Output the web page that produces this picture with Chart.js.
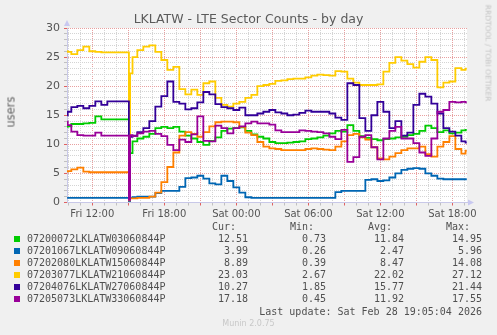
<!DOCTYPE html>
<html>
<head>
<meta charset="utf-8">
<script src="https://cdn.jsdelivr.net/npm/chart.js@4.4.1/dist/chart.umd.min.js"></script>
<style>
  html, body { margin: 0; padding: 0; background: #f0f0f0; }
  #wrap { position: relative; width: 497px; height: 335px; overflow: hidden; font-family: "DejaVu Sans", sans-serif; color: #555; }
  #wrap canvas { position: absolute; left: 0; top: 0; }
  .t { position: absolute; white-space: pre; }
  .mono { font-family: "DejaVu Sans Mono", monospace; font-size: 10px; line-height: 12px; color: #505050; }
  .sw { position: absolute; width: 6px; height: 6px; }
</style>
</head>
<body>
<div id="wrap">
  <canvas id="graf" width="497" height="335"></canvas>
  <div class="t" id="titulo" style="left:0;width:497px;top:11px;text-align:center;font-size:12.5px;line-height:15px;color:#5a5a5a;">LKLATW - LTE Sector Counts - by day</div>
  <div class="t" style="left:11px;top:112px;font-size:11.5px;line-height:13px;color:#666;transform:translate(-50%,-50%) rotate(-90deg);">users</div>
  <div class="t" style="left:488px;top:53px;font-size:7.5px;line-height:9px;color:#c4c4c4;transform:translate(-50%,-50%) rotate(90deg);">RRDTOOL / TOBI OETIKER</div>
  <div id="leyenda"></div>
  <div class="t mono" style="right:15px;top:306px;">Last update: Sat Feb 28 19:05:04 2026</div>
  <div class="t" style="left:0;width:497px;text-align:center;top:319px;font-size:8px;line-height:10px;color:#c8c8c8;">Munin 2.0.75</div>
</div>
<script>
// ---------- datos ----------
// horas desde el viernes 00:00
const tiempos = [
  9.9, 10, 10.5, 11, 11.5, 12, 12.5, 13, 13.5, 14, 14.5, 15, 15.1, 15.2,
  15.5, 16, 16.5, 17, 17.5, 18, 18.5, 19, 19.5, 20, 20.5, 21,
  21.5, 22, 22.5, 23, 23.5, 24, 24.5, 25, 25.5, 26, 26.5, 27,
  27.5, 28, 28.5, 29, 29.5, 30, 30.5, 31, 31.5, 32, 32.5, 33,
  33.5, 34, 34.5, 35, 35.5, 36, 36.5, 37, 37.5, 38, 38.5, 39,
  39.5, 40, 40.5, 41, 41.5, 42, 42.5, 43, 43.2
];

const nombres = [
  '07200072LKLATW03060844P', '07201067LKLATW09060844P', '07202080LKLATW15060844P',
  '07203077LKLATW21060844P', '07204076LKLATW27060844P', '07205073LKLATW33060844P'
];
const colores = ['#00CC00', '#0066B3', '#FF8000', '#FFCC00', '#330099', '#990099'];

const sector03 = [
  13.0, 13.1, 13.5, 13.5, 13.6, 13.7, 14.8, 14.3, 14.3, 14.3, 14.3, 14.3, 0.73, 8.5,
  10.5, 11.0, 11.3, 11.8, 12.8, 13.0, 12.8, 13.0, 12.2, 11.5, 11.0, 10.4,
  9.9, 10.6, 11.2, 12.3, 12.7, 12.8, 12.9, 12.3, 11.7, 11.3, 11.0, 10.4,
  10.2, 10.2, 10.3, 10.4, 10.5, 10.9, 11.0, 11.2, 11.5, 11.9, 12.3, 12.2,
  13.3, 12.3, 11.4, 11.1, 10.9, 10.7, 10.9, 11.0, 11.2, 11.3, 11.6, 11.8,
  12.3, 13.2, 12.8, 12.1, 12.4, 11.9, 12.0, 12.4, 12.5
];
const sector09 = [
  0.8, 0.8, 0.8, 0.8, 0.8, 0.8, 0.8, 0.8, 0.8, 0.8, 0.8, 0.8, 0.26, 0.8,
  0.9, 1.0, 1.0, 1.0, 1.6, 2.0, 2.0, 2.0, 2.7, 4.2, 4.3, 4.6,
  4.1, 3.3, 3.1, 4.6, 3.7, 2.6, 1.7, 0.9, 0.8, 0.8, 0.8, 0.8,
  0.8, 0.8, 0.8, 0.8, 0.8, 0.8, 0.8, 0.8, 0.8, 0.8, 1.8, 2.0,
  2.0, 2.0, 2.0, 3.9, 4.0, 3.7, 3.8, 4.3, 5.0, 5.6, 5.8, 5.9,
  5.8, 5.0, 4.6, 4.1, 4.0, 4.0, 4.0, 4.0, 4.0
];
const sector15 = [
  5.3, 5.4, 5.7, 6.0, 5.3, 5.2, 5.2, 5.2, 5.2, 5.2, 5.2, 5.2, 0.39, 0.7,
  0.7, 0.8, 0.8, 1.0, 1.7, 3.5, 6.1, 8.6, 11.5, 12.1, 11.8, 11.3,
  12.1, 13.1, 13.8, 13.9, 13.9, 13.8, 13.0, 12.0, 11.6, 10.4, 9.6, 9.3,
  9.2, 9.0, 9.0, 9.0, 9.0, 9.2, 9.3, 9.2, 9.1, 9.0, 9.6, 10.5,
  11.6, 11.8, 11.2, 10.8, 9.5, 7.6, 7.4, 7.9, 8.5, 9.0, 9.3, 9.3,
  9.6, 8.3, 7.9, 9.6, 10.4, 11.4, 9.2, 8.4, 8.9
];
const sector21 = [
  26.0, 25.9, 25.5, 26.2, 26.8, 26.0, 25.9, 25.8, 25.8, 25.8, 25.8, 25.8, 2.67, 22.2,
  25.0, 26.2, 26.8, 27.0, 25.9, 24.5, 22.8, 23.3, 19.5, 18.6, 19.4, 18.5,
  20.5, 20.8, 18.0, 16.8, 16.5, 17.0, 17.3, 18.0, 18.5, 20.0, 20.2, 20.4,
  20.9, 21.0, 21.2, 21.3, 21.3, 21.5, 21.8, 22.0, 21.9, 21.8, 22.6, 22.5,
  21.3, 20.6, 20.2, 20.2, 20.2, 20.3, 22.5, 24.0, 25.0, 24.4, 23.8, 23.2,
  24.2, 25.0, 24.5, 19.8, 20.6, 20.8, 23.1, 22.8, 23.0
];
const sector27 = [
  15.0, 15.6, 16.4, 16.6, 16.2, 16.6, 17.4, 16.8, 17.4, 17.4, 17.4, 17.4, 1.85, 11.3,
  11.5, 12.1, 12.8, 14.0, 16.5, 18.3, 20.8, 17.3, 17.0, 16.0, 16.2, 17.2,
  19.0, 18.6, 16.9, 16.4, 16.2, 15.9, 16.3, 15.0, 15.0, 15.3, 15.6, 15.9,
  15.5, 15.3, 15.0, 15.1, 15.4, 15.8, 15.6, 15.6, 15.6, 15.3, 14.6, 14.2,
  20.5, 20.2, 14.5, 12.3, 15.0, 17.3, 15.6, 12.8, 14.0, 11.5, 12.0, 16.8,
  18.7, 18.2, 17.0, 15.3, 12.8, 12.2, 11.5, 10.5, 10.3
];
const sector33 = [
  13.9, 13.3, 12.2, 11.6, 11.5, 11.5, 12.0, 11.5, 11.5, 11.5, 11.5, 11.5, 0.45, 11.6,
  11.4, 11.9, 12.2, 12.3, 11.8, 11.4, 9.9, 9.0, 10.8, 10.4, 11.7, 14.8,
  10.6, 10.5, 13.2, 12.8, 11.9, 12.8, 13.1, 13.6, 13.9, 13.6, 13.6, 13.4,
  12.4, 12.1, 12.1, 12.1, 12.4, 12.3, 12.2, 12.1, 11.9, 11.3, 10.9, 12.5,
  7.0, 7.8, 11.3, 11.6, 9.5, 7.4, 11.0, 12.3, 13.0, 11.0, 11.0, 10.2,
  8.6, 8.0, 11.0, 15.6, 15.9, 17.3, 17.2, 17.3, 17.2
];
const series = [sector03, sector09, sector15, sector21, sector27, sector33];

const valCur = [12.51, 3.99, 8.89, 23.03, 10.27, 17.18];
const valMin = [0.73, 0.26, 0.39, 2.67, 1.85, 0.45];
const valAvg = [11.84, 2.47, 8.47, 22.02, 15.77, 11.92];
const valMax = [14.95, 5.96, 14.08, 27.12, 21.44, 17.55];

// etiquetas del eje x (hora -> texto)
const horasEtiqueta = [12, 18, 24, 30, 36, 42];
const textosEtiqueta = ['Fri 12:00', 'Fri 18:00', 'Sat 00:00', 'Sat 06:00', 'Sat 12:00', 'Sat 18:00'];

// ---------- leyenda ----------
(function armarLeyenda() {
  const cont = document.getElementById('leyenda');
  const colsDer = [249, 171, 93, 15];       // borde derecho de cada columna (desde la derecha)
  const cab = ['Cur:', 'Min:', 'Avg:', 'Max:'];
  let html = '';
  cab.forEach((c, j) => {
    html += `<div class="t mono" style="right:${colsDer[j] + 12}px;top:221px;">${c}</div>`;
  });
  nombres.forEach((n, i) => {
    const top = 233 + i * 12;
    html += `<div class="sw" style="left:14px;top:${top + 3}px;background:${colores[i]};"></div>`;
    html += `<div class="t mono" style="left:27px;top:${top}px;">${n}</div>`;
    [valCur, valMin, valAvg, valMax].forEach((arr, j) => {
      html += `<div class="t mono" style="right:${colsDer[j]}px;top:${top}px;">${arr[i].toFixed(2)}</div>`;
    });
  });
  cont.innerHTML = html;
})();

// ---------- grafico ----------
const fondoPlot = {
  id: 'fondoPlot',
  beforeDraw(chart) {
    const { ctx, chartArea: a } = chart;
    ctx.save();
    ctx.fillStyle = '#ffffff';
    ctx.fillRect(a.left, a.top, a.right - a.left, a.bottom - a.top);
    ctx.restore();
  },
  afterDraw(chart) {
    // flechitas de los ejes
    const { ctx, chartArea: a } = chart;
    ctx.save();
    ctx.fillStyle = '#c8c8f0';
    ctx.beginPath();
    ctx.moveTo(a.left - 3, a.top - 2);
    ctx.lineTo(a.left + 3, a.top - 2);
    ctx.lineTo(a.left, a.top - 8);
    ctx.fill();
    ctx.beginPath();
    ctx.moveTo(a.right + 1, a.bottom - 3);
    ctx.lineTo(a.right + 1, a.bottom + 3);
    ctx.lineTo(a.right + 7, a.bottom);
    ctx.fill();
    ctx.restore();
  }
};

const rojo = '#e8a0a0';
const gris = '#d4d4d4';

new Chart(document.getElementById('graf'), {
  type: 'line',
  data: {
    datasets: series.map((s, i) => ({
      label: nombres[i],
      data: tiempos.map((t, k) => ({ x: t, y: s[k] })),
      borderColor: colores[i],
      borderWidth: 1.8,
      pointRadius: 0,
      stepped: 'middle',
      fill: false,
      order: series.length - i
    }))
  },
  options: {
    responsive: false,
    animation: false,
    events: [],
    layout: { padding: { left: 0, top: 28, right: 30, bottom: 112.5 } },
    plugins: { legend: { display: false }, tooltip: { enabled: false } },
    scales: {
      x: {
        type: 'linear',
        min: 9.89,
        max: 43.22,
        afterBuildTicks: (s) => {
          const t = [];
          for (let h = 10; h <= 43; h++) t.push({ value: h });
          s.ticks = t;
        },
        afterFit: (s) => { s.height = 20; },
        ticks: {
          autoSkip: false,
          maxRotation: 0,
          padding: 3,
          color: '#555',
          font: { family: 'DejaVu Sans', size: 10 },
          callback: (v) => {
            const k = horasEtiqueta.indexOf(v);
            return k >= 0 ? textosEtiqueta[k] : '';
          }
        },
        grid: {
          color: (c) => (c.tick && c.tick.value % 3 === 0 ? rojo : gris),
          tickColor: (c) => (c.tick && c.tick.value % 3 === 0 ? '#e06060' : '#c0c0c0'),
          tickLength: 3
        },
        border: { color: '#c8c8e8', width: 1, dash: [1, 1] }
      },
      y: {
        min: 0,
        max: 30,
        afterBuildTicks: (s) => {
          const t = [];
          for (let v = 0; v <= 30; v++) t.push({ value: v });
          s.ticks = t;
        },
        afterFit: (s) => { s.width = 67; },
        ticks: {
          autoSkip: false,
          padding: 4,
          color: '#555',
          font: { family: 'DejaVu Sans', size: 11 },
          callback: (v) => (v % 5 === 0 ? String(v) : '')
        },
        grid: {
          color: (c) => (c.tick && c.tick.value % 5 === 0 ? rojo : gris),
          tickColor: (c) => (c.tick && c.tick.value % 5 === 0 ? '#e06060' : '#c0c0c0'),
          tickLength: 3
        },
        border: { color: '#c8c8e8', width: 1, dash: [1, 1] }
      }
    }
  },
  plugins: [fondoPlot]
});
</script>
</body>
</html>
